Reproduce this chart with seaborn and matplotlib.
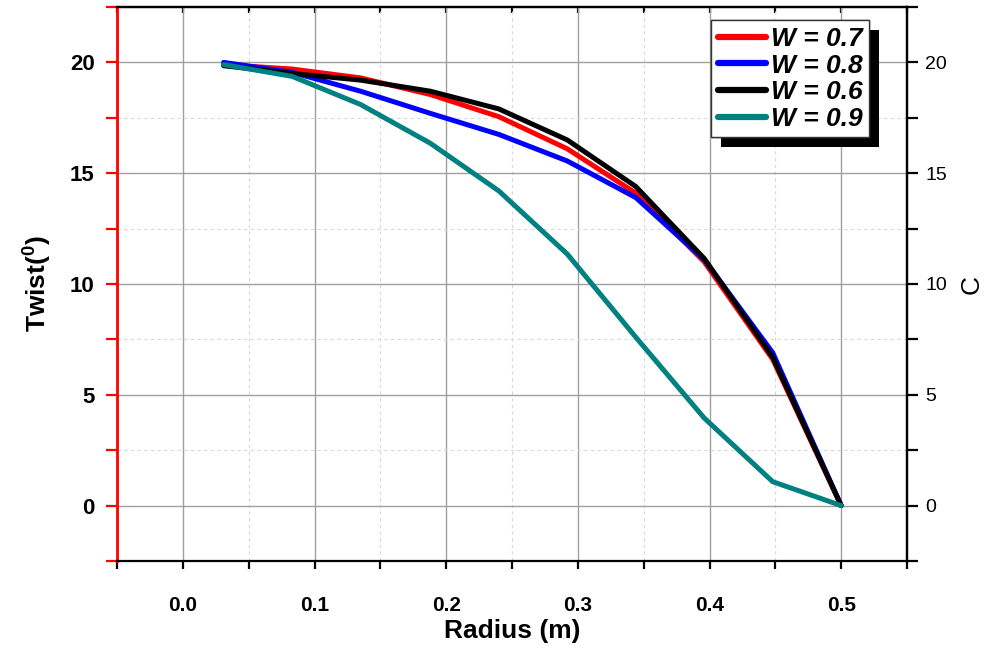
import numpy as np
import pandas as pd
import matplotlib
matplotlib.use("Agg")
import matplotlib.pyplot as plt
from matplotlib.patches import Rectangle
from matplotlib.transforms import IdentityTransform
from matplotlib.ticker import MultipleLocator, NullFormatter
import seaborn as sns

# ---- data ----
radius = [0.031, 0.083, 0.135, 0.188, 0.240, 0.292, 0.344, 0.396, 0.448, 0.500]
twist_w07 = [19.90, 19.70, 19.30, 18.55, 17.55, 16.10, 14.10, 11.00, 6.60, 0.0]
twist_w08 = [20.00, 19.55, 18.70, 17.70, 16.75, 15.55, 13.90, 11.10, 6.90, 0.0]
twist_w06 = [19.85, 19.50, 19.20, 18.70, 17.90, 16.50, 14.40, 11.15, 6.70, 0.0]
twist_w09 = [19.90, 19.37, 18.10, 16.35, 14.20, 11.35, 7.60, 3.95, 1.08, 0.0]
series_labels = ["W = 0.7", "W = 0.8", "W = 0.6", "W = 0.9"]
series_colors = ["#ff0000", "#0000ff", "#000000", "#008080"]
x_ticks = [0.0, 0.1, 0.2, 0.3, 0.4, 0.5]
y_ticks = [0, 5, 10, 15, 20]

frames = []
for lab, vals in zip(series_labels, [twist_w07, twist_w08, twist_w06, twist_w09]):
    frames.append(pd.DataFrame({"Radius": radius, "Twist": vals, "W": lab}))
df = pd.concat(frames, ignore_index=True)

sns.set_style("white")
plt.rcParams["font.family"] = ["Liberation Sans", "DejaVu Sans"]
plt.rcParams["mathtext.fontset"] = "custom"
plt.rcParams["mathtext.rm"] = "Liberation Sans"
plt.rcParams["mathtext.bf"] = "Liberation Sans:bold"
plt.rcParams["text.color"] = "black"
plt.rcParams["axes.labelcolor"] = "black"
plt.rcParams["xtick.color"] = "black"
plt.rcParams["ytick.color"] = "black"

fig = plt.figure(figsize=(9.85, 6.48), dpi=100)
ax = fig.add_axes([117/985, 1 - 561/648, (907-117)/985, (561-7)/648])

sns.lineplot(data=df, x="Radius", y="Twist", hue="W", hue_order=series_labels,
             palette=dict(zip(series_labels, series_colors)), linewidth=3.6,
             ax=ax, legend=True, sort=False)

ax.set_xlim(-0.05, 0.55)
ax.set_ylim(-2.5, 22.5)
ax.set_xticks(x_ticks)
ax.set_yticks(y_ticks)
ax.xaxis.set_minor_locator(MultipleLocator(0.05))
ax.yaxis.set_minor_locator(MultipleLocator(2.5))

ax.grid(which="major", color="#a0a0a0", linewidth=1.0, linestyle="-")
ax.grid(which="minor", color="#d8d8d8", linewidth=0.8, linestyle=(0, (3, 3)))
ax.set_axisbelow(True)

for s in ["top", "bottom", "right"]:
    ax.spines[s].set_color("black")
    ax.spines[s].set_linewidth(1.6)
ax.spines["left"].set_color("red")
ax.spines["left"].set_linewidth(2.0)

ax.tick_params(axis="x", which="both", bottom=True, top=False, direction="out",
               length=6, width=1.6, color="black", labelcolor="black",
               labelsize=15, pad=19)
ax.tick_params(axis="y", which="both", left=True, right=False, direction="out",
               length=8, width=1.6, color="red", labelcolor="black",
               labelsize=16, pad=8)
for lbl in ax.get_xticklabels() + ax.get_yticklabels():
    lbl.set_fontweight("bold")

# top ticks inward
secx = ax.secondary_xaxis("top")
secx.set_xticks(x_ticks)
secx.xaxis.set_minor_locator(MultipleLocator(0.05))
secx.xaxis.set_major_formatter(NullFormatter())
secx.tick_params(axis="x", which="both", direction="in", length=4, width=1.6,
                 color="black")
secx.spines["top"].set_linewidth(1.6)
secx.spines["top"].set_color("black")

ax.set_xlabel("Radius (m)", fontsize=19, fontweight="bold", labelpad=3, color="black")
ax.set_ylabel(r"Twist($^{\mathbf{0}}$)", fontsize=19, fontweight="bold",
              labelpad=12, color="black")

ax2 = ax.twinx()
ax2.set_ylim(-2.5, 22.5)
ax2.set_yticks(y_ticks)
ax2.yaxis.set_minor_locator(MultipleLocator(2.5))
ax2.tick_params(axis="y", which="both", direction="out", length=8, width=1.6,
                color="black", labelcolor="black", labelsize=14, pad=5)
ax2.spines["right"].set_linewidth(1.6)
ax2.spines["right"].set_color("black")
for s in ["top", "bottom", "left"]:
    ax2.spines[s].set_visible(False)
ax2.set_ylabel("C", fontsize=19, labelpad=9, color="black")
ax2.grid(False)

handles, labels = ax.get_legend_handles_labels()
leg = ax.legend(handles, labels, loc="upper right", bbox_to_anchor=(0.952, 0.976),
                prop={"weight": "bold", "style": "italic", "size": 19},
                frameon=True, fancybox=False, edgecolor="#333333", framealpha=1,
                handlelength=1.8, handletextpad=0.2, borderpad=0.25,
                labelspacing=0.1, borderaxespad=0)
leg.get_frame().set_linewidth(1.0)
for t in leg.get_texts():
    t.set_color("black")
for h in leg.legend_handles:
    h.set_linewidth(4.5)
    h.set_solid_capstyle("round")
leg.set_zorder(10)
ax.add_artist(leg)
fig.canvas.draw()
bb = leg.get_window_extent()
shadow = Rectangle((bb.x0 + 10, bb.y0 - 10), bb.width, bb.height,
                   transform=IdentityTransform(), facecolor="black",
                   edgecolor="none", zorder=9)
ax.add_patch(shadow)

fig.savefig("out.png", dpi=100)
